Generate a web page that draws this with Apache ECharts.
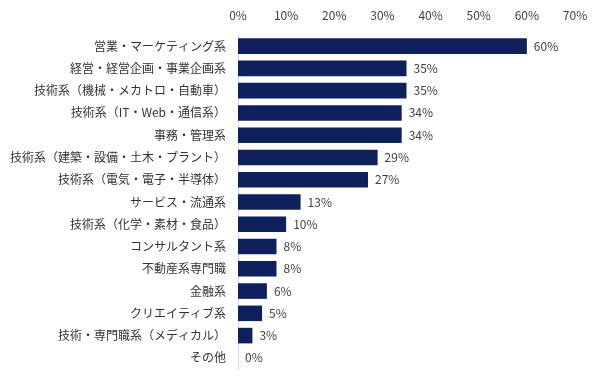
<!DOCTYPE html>
<html><head><meta charset="utf-8">
<script src="https://cdn.jsdelivr.net/npm/echarts@6/dist/echarts.min.js"></script>
<style>html,body{margin:0;padding:0;background:#fff}#c{width:605px;height:385px}</style>
</head><body><div id="c"></div>
<script>
const categories = ['営業・マーケティング系','経営・経営企画・事業企画系','技術系（機械・メカトロ・自動車）','技術系（IT・Web・通信系）','事務・管理系','技術系（建築・設備・土木・プラント）','技術系（電気・電子・半導体）','サービス・流通系','技術系（化学・素材・食品）','コンサルタント系','不動産系専門職','金融系','クリエイティブ系','技術・専門職系（メディカル）','その他'];
const values = [60,35,35,34,34,29,27,13,10,8,8,6,5,3,0];
const xTicks = [0,10,20,30,40,50,60,70];
const font = '"Noto Sans CJK JP", "Noto Sans", sans-serif';
const chart = echarts.init(document.getElementById('c'));
chart.setOption({
  animation:false,
  grid:{left:238,right:30,top:35,bottom:16,containLabel:false},
  xAxis:{type:'value',position:'top',min:xTicks[0],max:xTicks[xTicks.length-1],interval:10,
    axisLine:{show:false},axisTick:{show:false},splitLine:{show:false},
    axisLabel:{formatter:'{value}%',color:'#404040',fontSize:12,fontFamily:font,margin:14}},
  yAxis:{type:'category',inverse:true,data:categories,
    axisLine:{show:true,lineStyle:{color:'#d9d9d9',width:1}},axisTick:{show:false},
    axisLabel:{color:'#333',fontSize:12,fontFamily:font,margin:12}},
  series:[{type:'bar',data:values,barCategoryGap:'30%',
    itemStyle:{color:'#0e215c'},
    label:{show:true,position:'right',distance:7,formatter:'{c}%',color:'#404040',fontSize:12,fontFamily:font}}]
});
</script></body></html>
